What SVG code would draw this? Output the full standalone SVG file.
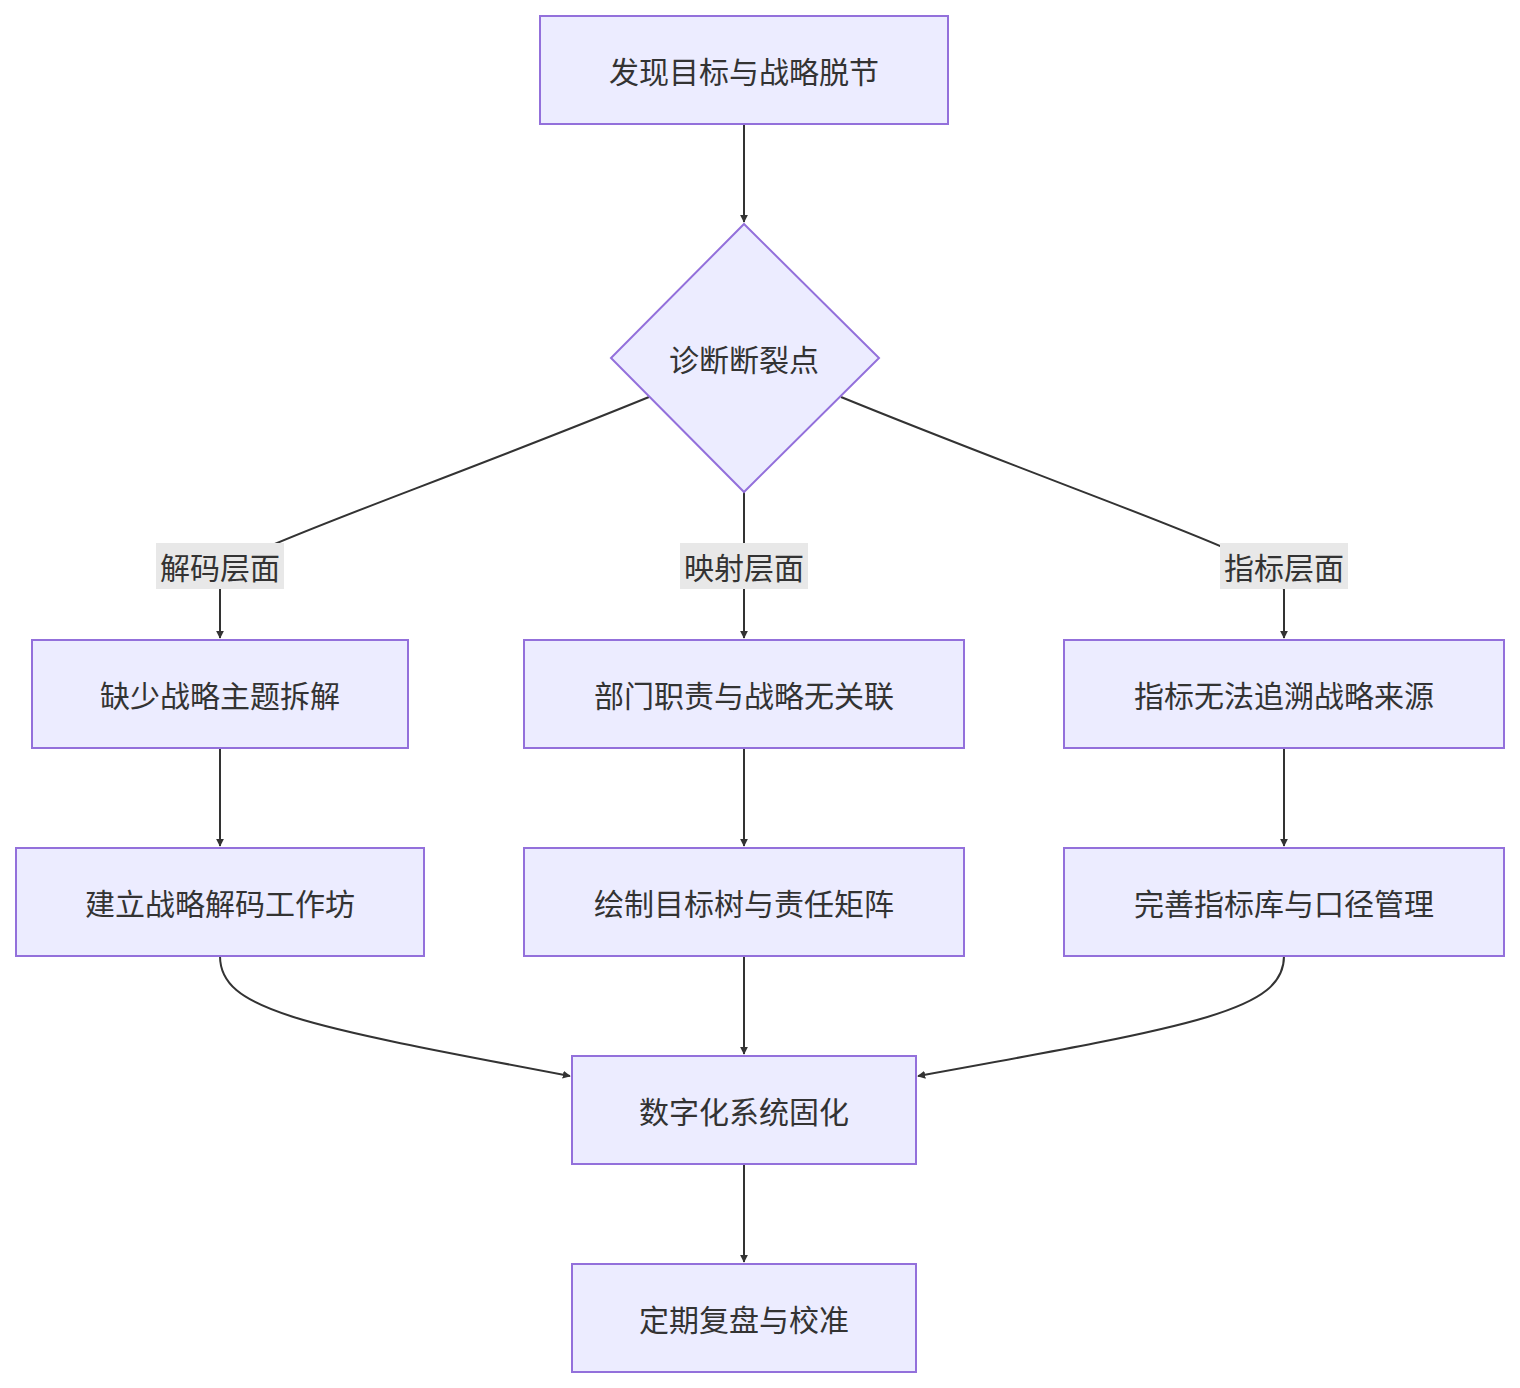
<svg xmlns="http://www.w3.org/2000/svg" width="1520" height="1388" viewBox="0 0 1520 1388">
<defs>
<style>
.n{fill:#ececff;stroke:#9370db;stroke-width:2}
.t{font-family:"Noto Sans CJK SC","Liberation Sans",sans-serif;font-size:30px;fill:#333;text-anchor:middle;dominant-baseline:central}
.e{fill:none;stroke:#333;stroke-width:2}
.lb{fill:#e8e8e8}
</style>
<marker id="a" viewBox="0 0 10 10" refX="9" refY="5" markerWidth="8" markerHeight="8" orient="auto-start-reverse" markerUnits="userSpaceOnUse" ><path d="M0,0L10,5L0,10z" fill="#333"/></marker>
</defs>
<rect width="1520" height="1388" fill="#fff"/>
<g id="connectors">
<path class="e" d="M744,124V222" marker-end="url(#a)"/>
<path class="e" d="M649,397C470,470 300,530 250,555Q220,575 220,590V638" marker-end="url(#a)"/>
<path class="e" d="M744,492V638" marker-end="url(#a)"/>
<path class="e" d="M841,397C1020,470 1190,530 1240,555Q1284,575 1284,590V638" marker-end="url(#a)"/>
<path class="e" d="M220,748V846" marker-end="url(#a)"/>
<path class="e" d="M744,748V846" marker-end="url(#a)"/>
<path class="e" d="M1284,748V846" marker-end="url(#a)"/>
<path class="e" d="M220,956C220,1010 300,1025 570,1076" marker-end="url(#a)"/>
<path class="e" d="M744,956V1054" marker-end="url(#a)"/>
<path class="e" d="M1284,956C1284,1010 1200,1025 918,1076" marker-end="url(#a)"/>
<path class="e" d="M744,1164V1262" marker-end="url(#a)"/>
<rect class="lb" x="156" y="543" width="128" height="46"/><text class="t" x="220" y="566">解码层面</text>
<rect class="lb" x="680" y="543" width="128" height="46"/><text class="t" x="744" y="566">映射层面</text>
<rect class="lb" x="1220" y="543" width="128" height="46"/><text class="t" x="1284" y="566">指标层面</text>
</g>
<g id="n1"><rect class="n" x="540" y="16" width="408" height="108"/><text class="t" x="744" y="70">发现目标与战略脱节</text></g>
<g id="n2"><path class="n" d="M744,224L879,358L744,492L611,358Z"/><text class="t" x="744" y="358">诊断断裂点</text></g>
<g id="n3"><rect class="n" x="32" y="640" width="376" height="108"/><text class="t" x="220" y="694">缺少战略主题拆解</text></g>
<g id="n4"><rect class="n" x="524" y="640" width="440" height="108"/><text class="t" x="744" y="694">部门职责与战略无关联</text></g>
<g id="n5"><rect class="n" x="1064" y="640" width="440" height="108"/><text class="t" x="1284" y="694">指标无法追溯战略来源</text></g>
<g id="n6"><rect class="n" x="16" y="848" width="408" height="108"/><text class="t" x="220" y="902">建立战略解码工作坊</text></g>
<g id="n7"><rect class="n" x="524" y="848" width="440" height="108"/><text class="t" x="744" y="902">绘制目标树与责任矩阵</text></g>
<g id="n8"><rect class="n" x="1064" y="848" width="440" height="108"/><text class="t" x="1284" y="902">完善指标库与口径管理</text></g>
<g id="n9"><rect class="n" x="572" y="1056" width="344" height="108"/><text class="t" x="744" y="1110">数字化系统固化</text></g>
<g id="n10"><rect class="n" x="572" y="1264" width="344" height="108"/><text class="t" x="744" y="1318">定期复盘与校准</text></g>
</svg>
